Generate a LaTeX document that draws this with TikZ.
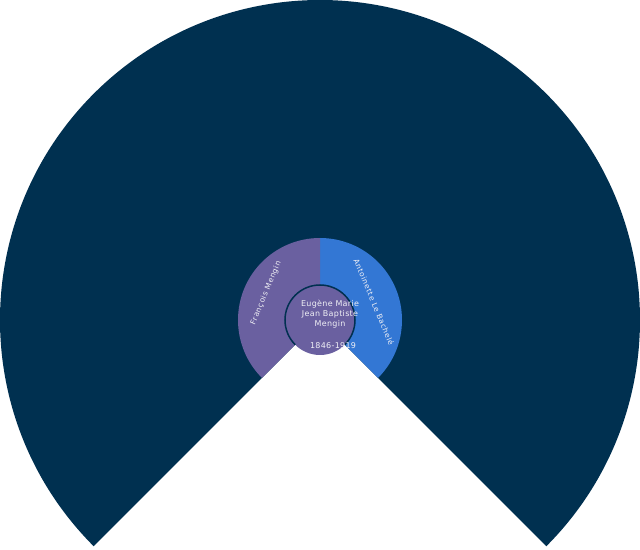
\documentclass[tikz,border=0pt]{standalone}
\usepackage{fontspec}
\newfontfamily\lab[LetterSpace=4]{DejaVu Sans}
\newfontfamily\ringfont[LetterSpace=8]{DejaVu Sans}
\definecolor{navy}{RGB}{0,48,80}
\definecolor{ringpurple}{RGB}{106,96,160}
\definecolor{ringblue}{RGB}{51,119,212}
\definecolor{txt}{RGB}{240,240,245}
\tikzset{
  lbl/.style={text=txt, font=\lab\fontsize{8}{10}\selectfont, inner sep=0pt, align=center},
  ringlbl/.style={text=txt, font=\ringfont\fontsize{7.5}{9}\selectfont, inner sep=0pt}
}
\begin{document}
\begin{tikzpicture}[x=1bp,y=1bp]
\useasboundingbox (-320,-230) rectangle (320,320);
\fill[white] (-320,-230) rectangle (320,320);
\fill[navy] (0,0) -- (-45:320) arc[start angle=-45,end angle=225,radius=320] -- cycle;
\fill[ringblue] (0,0) -- (-45:82) arc[start angle=-45,end angle=90,radius=82] -- cycle;
\fill[ringpurple] (0,0) -- (90:82) arc[start angle=90,end angle=225,radius=82] -- cycle;
\fill[ringpurple] (0,0) circle[radius=35];
\draw[navy, line width=1.5bp] (-45:35) arc[start angle=-45,end angle=225,radius=35];
\node[lbl] (name) at (10,6) {Eugène Marie\\Jean Baptiste\\Mengin};
\node[lbl] (dates) at (13,-26) {1846-1919};
\node[ringlbl, rotate=-67.5] (mother) at (54,18) {Antoinette Le Bachelé};
\node[ringlbl, rotate=67.5] (father) at (-54,27) {François Mengin};
\end{tikzpicture}
\end{document}
